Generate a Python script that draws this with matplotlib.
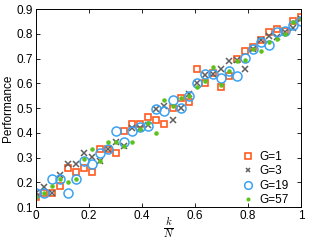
import matplotlib
matplotlib.use('Agg')
import matplotlib.pyplot as plt
import numpy as np

plt.rcParams['font.family'] = ['Liberation Sans', 'DejaVu Sans']
plt.rcParams['mathtext.fontset'] = 'cm'

# k/N positions (N = 33)
N = 33
k = [0, 1, 2, 3, 4, 5, 6, 7, 8, 9, 10, 11, 12, 13, 14, 15, 16,
     17, 18, 19, 20, 21, 22, 23, 24, 25, 26, 27, 28, 29, 30, 31, 32, 33]

# Performance for each group size G
perf_g1 = [0.140, 0.157, 0.157, 0.185, 0.258, 0.243, 0.258, 0.243, 0.333, 0.335,
           0.317, 0.406, 0.435, 0.435, 0.464, 0.452, 0.435, 0.498, 0.539, 0.525,
           0.656, 0.600, 0.643, 0.585, 0.628, 0.700, 0.732, 0.748, 0.775, 0.806,
           0.820, 0.811, 0.853, 0.866]
perf_g3 = [0.157, 0.182, 0.157, 0.229, 0.274, 0.274, 0.317, 0.303, 0.287, 0.335,
           0.361, 0.346, 0.420, 0.420, 0.430, 0.495, 0.509, 0.453, 0.500, 0.555,
           0.600, 0.633, 0.636, 0.658, 0.689, 0.695, 0.658, 0.740, 0.775, 0.790,
           0.788, 0.806, 0.822, 0.858]
perf_g19 = [0.157, 0.157, 0.213, 0.213, 0.157, 0.213, 0.287, 0.274, 0.317, 0.333,
            0.406, 0.361, 0.406, 0.422, 0.427, 0.495, 0.487, 0.532, 0.500, 0.548,
            0.600, 0.637, 0.636, 0.620, 0.650, 0.628, 0.702, 0.738, 0.765, 0.755,
            0.806, 0.811, 0.834, 0.853]
perf_g57 = [0.140, 0.157, 0.185, 0.213, 0.200, 0.213, 0.294, 0.333, 0.287, 0.361,
            0.361, 0.346, 0.361, 0.414, 0.440, 0.400, 0.532, 0.510, 0.540, 0.548,
            0.585, 0.610, 0.664, 0.593, 0.651, 0.689, 0.694, 0.737, 0.732, 0.765,
            0.777, 0.800, 0.847, 0.858]

x = np.array(k) / N

fig = plt.figure(figsize=(3.12, 2.42), dpi=100)
ax = fig.add_axes([0.1154, 0.1446, 0.8494, 0.8182])

ax.plot(x, perf_g1, 's', mfc='none', mec='#FF5A1F', mew=1.2, ms=5, label='G=1')
ax.plot(x, perf_g3, 'x', color='#5F5F5F', mew=1.1, ms=4, label='G=3')
ax.plot(x, perf_g19, 'o', mfc='none', mec='#3AA2F2', mew=1.1, ms=6.5, label='G=19')
ax.plot(x, perf_g57, '.', color='#5CC21B', ms=4.5, label='G=57')

ax.set_xlim(0, 1)
ax.set_ylim(0.1, 0.9)
ax.set_xticks([0, 0.2, 0.4, 0.6, 0.8, 1])
ax.set_xticklabels(['0', '0.2', '0.4', '0.6', '0.8', '1'])
ax.set_yticks([0.1, 0.2, 0.3, 0.4, 0.5, 0.6, 0.7, 0.8, 0.9])
ax.tick_params(direction='in', top=True, right=True, length=3, width=0.6,
               labelsize=8.5, pad=2)
for s in ax.spines.values():
    s.set_linewidth(0.7)

xl = ax.set_xlabel(r'$\frac{k}{N}$', fontsize=11)
xl.set_va('center')
ax.xaxis.set_label_coords(0.5, -0.106)
ax.set_ylabel('Performance', fontsize=8.5, labelpad=2)

ax.legend(loc='lower right', frameon=False, fontsize=8.5, handlelength=0.8,
          handletextpad=0.5, labelspacing=0.2, borderaxespad=0.1,
          markerscale=0.85, bbox_to_anchor=(0.975, -0.025))

fig.savefig('out.png', dpi=100)
